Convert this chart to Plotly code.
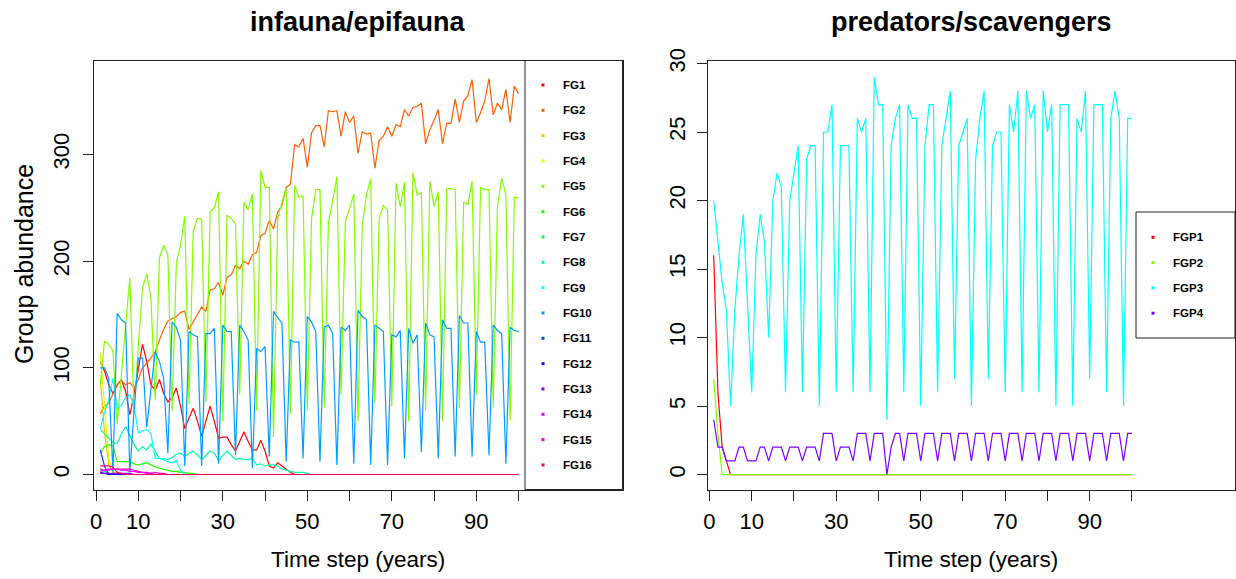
import plotly.graph_objects as go

W, H = 1236, 579
def fx(px): return px / W
def fy(py): return 1 - py / H

t = list(range(1, 101))

fg_names = [f"FG{i}" for i in range(1, 17)]
fg_colors = ["#FF0000", "#FF6000", "#FFBF00", "#DFFF00", "#80FF00", "#20FF00", "#00FF40", "#00FF9F",
             "#00FFFF", "#009FFF", "#0040FF", "#2000FF", "#8000FF", "#DF00FF", "#FF00BF", "#FF0060"]

FG1 = [106, 97, 84, 76, 84, 89, 78, 56, 75, 97, 122, 106, 84, 79, 89, 76, 68, 72, 81, 64,
       43, 53, 62, 50, 36, 50, 64, 50, 34, 35, 35, 28, 22, 31, 40, 31, 23, 23, 32, 22,
       8, 6, 11, 8, 5, 2, 0] + [0] * 53
FG2 = [57, 64, 67, 76, 84, 88, 84, 86, 81, 89, 100, 104, 110, 115, 126, 136, 144, 146, 148, 152,
       153, 136, 143, 150, 157, 153, 173, 174, 180, 168, 185, 187, 196, 193, 200, 197, 206, 208, 224, 226,
       238, 230, 246, 252, 269, 272, 309, 307, 315, 288, 320, 327, 327, 307, 341, 340, 341, 317, 340, 330,
       336, 301, 321, 319, 320, 287, 313, 317, 326, 317, 328, 326, 342, 336, 344, 345, 348, 310, 323, 332,
       342, 310, 329, 329, 352, 330, 350, 355, 370, 330, 339, 350, 371, 337, 348, 342, 361, 330, 364, 357]
FG3 = [90, 40, 10, 2, 0] + [0] * 95
FG4 = [114, 60, 15, 3, 0] + [0] * 95
FG5 = [84, 125, 122, 116, 47, 90, 140, 184, 57, 120, 175, 188, 165, 70, 203, 215, 206, 60, 198, 215,
       242, 66, 228, 240, 239, 68, 246, 250, 265, 50, 243, 240, 235, 75, 255, 248, 263, 60, 285, 269,
       269, 35, 240, 255, 268, 57, 271, 260, 261, 60, 240, 267, 267, 62, 236, 257, 279, 75, 237, 249,
       263, 50, 233, 262, 277, 67, 240, 252, 248, 64, 273, 251, 274, 50, 283, 262, 264, 60, 275, 251,
       265, 50, 268, 268, 267, 62, 255, 253, 275, 75, 269, 267, 267, 62, 251, 278, 262, 51, 260, 259]
FG6 = [20, 26, 28, 27, 12, 12, 12, 12, 10, 9, 10, 11, 9, 7, 6, 5, 4, 3, 3, 2,
       2, 1, 1, 0] + [0] * 76
FG7 = [5, 3, 1, 0] + [0] * 96
FG8 = [42, 38, 34, 30, 29, 38, 45, 37, 28, 22, 26, 23, 28, 22, 15, 15, 14, 16, 19, 20,
       17, 20, 22, 18, 14, 18, 22, 20, 13, 18, 22, 18, 14, 15, 14, 14, 15, 9, 10, 8,
       9, 9, 8, 5, 4, 3, 2, 2, 2, 1, 0] + [0] * 49
FG9 = [43, 58, 70, 90, 62, 65, 72, 75, 64, 39, 41, 42, 38, 15, 15, 14, 12, 11, 13, 4,
       0] + [0] * 79
FG10 = [100, 100, 90, 2, 151, 145, 142, 2, 60, 109, 109, 44, 80, 115, 106, 90, 20, 143, 138, 126,
        8, 134, 131, 129, 8, 132, 132, 137, 10, 140, 134, 134, 18, 140, 134, 126, 6, 118, 115, 120,
        17, 153, 147, 142, 12, 126, 124, 124, 15, 148, 143, 134, 12, 138, 140, 132, 9, 138, 135, 140,
        10, 154, 148, 145, 9, 140, 137, 134, 9, 131, 129, 135, 15, 137, 123, 131, 21, 142, 131, 129,
        15, 145, 137, 137, 17, 149, 142, 142, 17, 134, 124, 124, 18, 140, 135, 132, 10, 138, 135, 134]
FG11 = [23, 8, 0] + [0] * 97
FG12 = [2, 1, 0] + [0] * 97
FG13 = [1, 1, 1, 1, 1, 1, 1, 1, 0] + [0] * 91
FG14 = [3, 4, 5, 5, 5, 4, 4, 3, 3, 2, 2, 1, 1, 0] + [0] * 86
FG15 = [5, 4, 4, 5, 5, 5, 5, 5, 4, 3, 2, 2, 1, 2, 1, 1, 0] + [0] * 83
FG16 = [8, 8, 8, 7, 2, 1, 0] + [0] * 93
fg_values = [FG1, FG2, FG3, FG4, FG5, FG6, FG7, FG8, FG9, FG10, FG11, FG12, FG13, FG14, FG15, FG16]

fgp_names = ["FGP1", "FGP2", "FGP3", "FGP4"]
fgp_colors = ["#FF0000", "#80FF00", "#00FFFF", "#8000FF"]
FGP1 = [16, 6, 2, 1, 0] + [0] * 95
FGP2 = [7, 3, 0] + [0] * 97
FGP3 = [20, 17, 14, 12, 5, 12, 16, 19, 12, 6, 16, 19, 17, 10, 20, 22, 21, 6, 20, 22,
        24, 6, 23, 24, 24, 5, 25, 25, 27, 6, 24, 24, 24, 6, 26, 25, 26, 6, 29, 27,
        27, 4, 24, 26, 27, 6, 27, 26, 26, 5, 24, 27, 27, 6, 24, 26, 28, 7, 24, 25,
        26, 5, 23, 26, 28, 7, 24, 25, 25, 6, 27, 25, 28, 6, 28, 26, 27, 6, 28, 25,
        27, 5, 27, 27, 27, 5, 26, 25, 28, 7, 27, 27, 27, 6, 26, 28, 26, 5, 26, 26]
FGP4 = [4, 2, 2, 1, 1, 1, 2, 2, 1, 1, 1, 2, 2, 1, 2, 2, 2, 1, 2, 2,
        2, 1, 2, 2, 2, 1, 3, 3, 3, 1, 2, 2, 2, 1, 3, 3, 3, 1, 3, 3,
        3, 0, 2, 3, 3, 1, 3, 3, 3, 1, 3, 3, 3, 1, 3, 3, 3, 1, 3, 3,
        3, 1, 3, 3, 3, 1, 3, 3, 3, 1, 3, 3, 3, 1, 3, 3, 3, 1, 3, 3,
        3, 1, 3, 3, 3, 1, 3, 3, 3, 1, 3, 3, 3, 1, 3, 3, 3, 1, 3, 3]
fgp_values = [FGP1, FGP2, FGP3, FGP4]

x_ticks = [0, 10, 20, 30, 40, 50, 60, 70, 80, 90, 100]
x_ticktext = ["0", "10", "", "30", "", "50", "", "70", "", "90", ""]
y1_ticks = [0, 100, 200, 300]
y2_ticks = [0, 5, 10, 15, 20, 25, 30]

FONT = "Liberation Sans, Arial, Helvetica, sans-serif"

fig = go.Figure()
for name, col, vals in zip(fg_names, fg_colors, fg_values):
    fig.add_trace(go.Scatter(x=t, y=vals, mode="lines", name=name, line=dict(color=col, width=1.2),
                             xaxis="x", yaxis="y", showlegend=False, hoverinfo="skip"))
for name, col, vals in zip(fgp_names, fgp_colors, fgp_values):
    fig.add_trace(go.Scatter(x=t, y=vals, mode="lines", name=name, line=dict(color=col, width=1.2),
                             xaxis="x2", yaxis="y2", showlegend=False, hoverinfo="skip"))

L_BOX = (93.5, 60.5, 622.5, 489.5)
R_BOX = (707.5, 60.5, 1235.0, 489.5)

common_axis = dict(showgrid=False, zeroline=False, showline=True, mirror=True, linecolor="#222",
                   linewidth=1, ticks="outside", ticklen=10, tickcolor="#222", tickwidth=1,
                   automargin=False,
                   tickfont=dict(family=FONT, size=22, color="black"))

fig.update_layout(
    width=W, height=H, margin=dict(l=0, r=0, t=0, b=0, pad=0, autoexpand=False), autosize=False,
    paper_bgcolor="white", plot_bgcolor="white",
    font=dict(family=FONT, color="black"),
    xaxis=dict(domain=[fx(L_BOX[0]), fx(L_BOX[2])], range=[-0.6, 124.6], anchor="y",
               tickmode="array", tickvals=x_ticks, ticktext=x_ticktext, ticklabelstandoff=2, **common_axis),
    yaxis=dict(domain=[fy(L_BOX[3]), fy(L_BOX[1])], range=[-14.06, 388.0], anchor="x",
               tickmode="array", tickvals=y1_ticks, tickangle=-90, ticklabelstandoff=5, **common_axis),
    xaxis2=dict(domain=[fx(R_BOX[0]), fx(R_BOX[2])], range=[-0.47, 124.4], anchor="y2",
                tickmode="array", tickvals=x_ticks, ticktext=x_ticktext, ticklabelstandoff=2, **common_axis),
    yaxis2=dict(domain=[fy(R_BOX[3]), fy(R_BOX[1])], range=[-1.09, 30.22], anchor="x2",
                tickmode="array", tickvals=y2_ticks, tickangle=-90, ticklabelstandoff=3, **common_axis),
)

shapes = []
annotations = []

# Left legend
shapes.append(dict(type="rect", xref="paper", yref="paper", x0=fx(525), x1=fx(622.5), y0=fy(489.5), y1=fy(60.5),
                   line=dict(color="#222", width=1), fillcolor="rgba(0,0,0,0)"))
for i, (name, col) in enumerate(zip(fg_names, fg_colors)):
    yc = 85.0 + 25.33 * i
    shapes.append(dict(type="rect", xref="paper", yref="paper", x0=fx(541.5), x1=fx(544.5),
                       y0=fy(yc + 1.5), y1=fy(yc - 1.5), line=dict(width=0), fillcolor=col))
    annotations.append(dict(text=f"<b>{name}</b>", xref="paper", yref="paper", x=fx(561), y=fy(yc),
                            xanchor="left", yanchor="middle", showarrow=False,
                            font=dict(family=FONT, size=11.5, color="black")))

# Right legend
shapes.append(dict(type="rect", xref="paper", yref="paper", x0=fx(1136), x1=fx(1235), y0=fy(338), y1=fy(212),
                   line=dict(color="#222", width=1), fillcolor="white", layer="above"))
for i, (name, col) in enumerate(zip(fgp_names, fgp_colors)):
    yc = 237.3 + 25.3 * i
    shapes.append(dict(type="rect", xref="paper", yref="paper", x0=fx(1151.5), x1=fx(1154.5),
                       y0=fy(yc + 1.5), y1=fy(yc - 1.5), line=dict(width=0), fillcolor=col, layer="above"))
    annotations.append(dict(text=f"<b>{name}</b>", xref="paper", yref="paper", x=fx(1171), y=fy(yc),
                            xanchor="left", yanchor="middle", showarrow=False,
                            font=dict(family=FONT, size=11.5, color="black")))

# Titles and axis labels
annotations.append(dict(text="<b>infauna/epifauna</b>", xref="paper", yref="paper", x=fx(358), y=fy(22),
                        xanchor="center", yanchor="middle", showarrow=False, font=dict(family=FONT, size=27)))
annotations.append(dict(text="<b>predators/scavengers</b>", xref="paper", yref="paper", x=fx(971), y=fy(22),
                        xanchor="center", yanchor="middle", showarrow=False, font=dict(family=FONT, size=27)))
annotations.append(dict(text="Time step (years)", xref="paper", yref="paper", x=fx(358), y=fy(559),
                        xanchor="center", yanchor="middle", showarrow=False, font=dict(family=FONT, size=22.5)))
annotations.append(dict(text="Time step (years)", xref="paper", yref="paper", x=fx(971), y=fy(559),
                        xanchor="center", yanchor="middle", showarrow=False, font=dict(family=FONT, size=22.5)))
annotations.append(dict(text="Group abundance", xref="paper", yref="paper", x=fx(24), y=fy(264),
                        xanchor="center", yanchor="middle", textangle=-90, showarrow=False,
                        font=dict(family=FONT, size=25)))

fig.update_layout(shapes=shapes, annotations=annotations)
fig.write_html("out.html", config={"displayModeBar": False, "staticPlot": True},
               post_script="document.body.style.margin='0px';document.body.style.overflow='hidden';")
